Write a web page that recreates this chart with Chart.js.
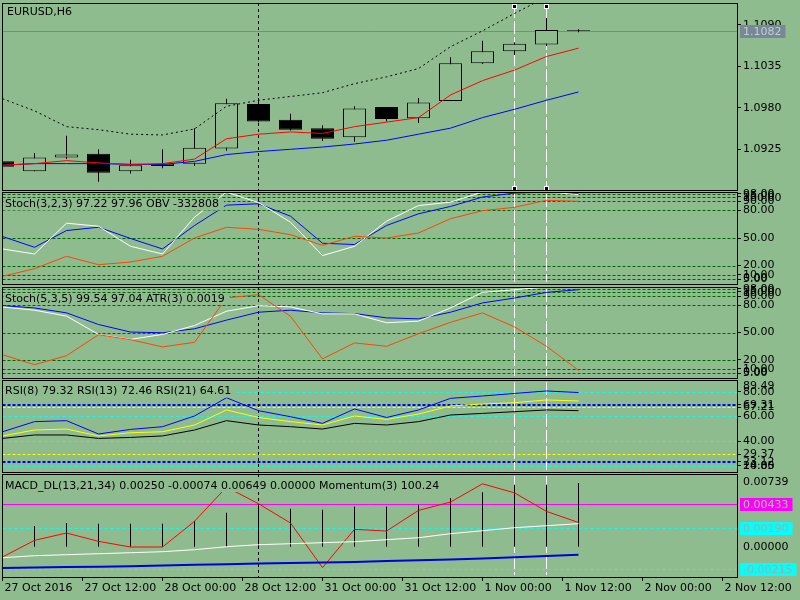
<!DOCTYPE html>
<html lang="en">
<head>
<meta charset="UTF-8" />
<title>EURUSD,H6</title>
<script src="https://cdn.jsdelivr.net/npm/chart.js"></script>
<style>
  body { margin: 0; background: #8fbc8f; }
  .wrap { position: relative; width: 800px; height: 600px; overflow: hidden; }
  canvas { position: absolute; left: 0; }
</style>
</head>
<body>
<div class="wrap">
  <canvas id="mainChart" width="800" height="196" style="top:0px"></canvas>
  <canvas id="stochA" width="800" height="106" style="top:184px"></canvas>
  <canvas id="stochB" width="800" height="106" style="top:278px"></canvas>
  <canvas id="rsiChart" width="800" height="106" style="top:372px"></canvas>
  <canvas id="macdChart" width="800" height="134" style="top:466px"></canvas>
</div>
<script>
// one entry per H6 bar, bar index = position in the array
const candleOpen  = [1.0909, 1.0896, 1.0914, 1.0919, 1.0896, 1.0903, 1.0906, 1.0926, 1.0985, 1.0964, 1.0953, 1.0941, 1.0981, 1.0966, 1.0989, 1.1039, 1.1055, 1.1064, 1.1083];
const candleHigh  = [1.0910, 1.0920, 1.0943, 1.0925, 1.0911, 1.0925, 1.0953, 1.0992, 1.0993, 1.0972, 1.0957, 1.0982, 1.0981, 1.0993, 1.1047, 1.1069, 1.1067, 1.1099, 1.1084];
const candleLow   = [1.0898, 1.0896, 1.0912, 1.0882, 1.0893, 1.0900, 1.0903, 1.0923, 1.0961, 1.0950, 1.0936, 1.0935, 1.0962, 1.0960, 1.0989, 1.1038, 1.1050, 1.1062, 1.1080];
const candleClose = [1.0902, 1.0914, 1.0918, 1.0894, 1.0904, 1.0906, 1.0927, 1.0986, 1.0962, 1.0951, 1.0939, 1.0979, 1.0965, 1.0987, 1.1039, 1.1055, 1.1065, 1.1083, 1.1082];
const maFast  = [1.0904, 1.0906, 1.0910, 1.0907, 1.0905, 1.0906, 1.0912, 1.0939, 1.0945, 1.0948, 1.0946, 1.0955, 1.0961, 1.0967, 1.0997, 1.1016, 1.1030, 1.1048, 1.1059];
const maSlow  = [1.0904, 1.0906, 1.0906, 1.0906, 1.0905, 1.0905, 1.0909, 1.0918, 1.0922, 1.0925, 1.0928, 1.0932, 1.0937, 1.0945, 1.0953, 1.0967, 1.0978, 1.0990, 1.1001];
const maUpper = [1.0992, 1.0976, 1.0955, 1.0951, 1.0945, 1.0944, 1.0952, 1.0982, 1.0990, 1.0995, 1.1000, 1.1012, 1.1021, 1.1032, 1.1061, 1.1082, 1.1105, 1.1127, 1.1147];
const priceTicks = [1.0925, 1.0980, 1.1035, 1.1090];
const lastPrice = 1.1082;

const stochAMain   = [38.1, 32.6, 66.1, 62.8, 41.0, 32.6, 72.6, 99.9, 88.5, 67.2, 30.9, 41.0, 68.3, 85.2, 89.0, 100, 100, 100, 97.22];
const stochASignal = [51.6, 39.9, 58.1, 61.7, 49.5, 38.1, 63.6, 85.7, 87.2, 73.7, 44.3, 42.9, 63.6, 76.3, 84.3, 94.5, 98.8, 99.9, 97.96];
const obv = [-857800, -804600, -717800, -776600, -757700, -717800, -589700, -514800, -528800, -566600, -640800, -577800, -589700, -554700, -454600, -398600, -374800, -325800, -332808];

const stochBMain   = [78.1, 74.5, 68.0, 47.9, 42.4, 47.9, 57.7, 73.4, 79.5, 78.1, 70.5, 70.5, 60.7, 62.5, 77.0, 94.1, 97.0, 100, 99.54];
const stochBSignal = [79.5, 77.0, 71.6, 58.8, 50.5, 49.7, 54.1, 63.6, 72.3, 74.5, 71.6, 70.8, 66.1, 65.0, 72.3, 82.5, 87.9, 94.1, 97.04];
const atr = [0.00268, 0.00218, 0.00263, 0.00368, 0.00343, 0.00307, 0.00330, 0.00552, 0.00568, 0.00460, 0.00247, 0.00327, 0.00310, 0.00373, 0.00430, 0.00477, 0.00407, 0.00310, 0.0019];
const stochLevels = [98, 95, 90, 80, 50, 20, 10, 5];

const rsi8  = [47.5, 55.7, 56.5, 45.7, 49.4, 51.6, 60.3, 75.1, 64.6, 59.7, 54.3, 66.0, 59.1, 65.2, 74.6, 76.5, 78.6, 80.6, 79.32];
const rsi13 = [44.1, 48.9, 49.7, 44.1, 46.7, 47.5, 53.0, 65.2, 59.1, 55.7, 53.0, 60.3, 57.5, 61.9, 68.4, 70.0, 71.1, 73.3, 72.46];
const rsi21 = [42.1, 44.9, 44.9, 42.1, 42.9, 44.1, 48.9, 56.5, 53.0, 51.6, 49.7, 54.3, 53.0, 55.7, 61.1, 62.4, 63.8, 65.2, 64.61];
const rsiCyanLevels = [80, 60, 40, 20];
const rsiYellowLevels = [67.21, 29.37];
const rsiBlueLevels = [69.31, 23.12];
const rsiMin = 14.85, rsiMax = 89.49;

const macdMain   = [-0.00098, 0.00070, 0.00144, 0.00060, 0.00003, 0.00003, 0.00262, 0.00607, 0.00439, 0.00245, -0.00205, 0.00181, 0.00164, 0.00372, 0.00456, 0.00640, 0.00549, 0.00362, 0.00250];
const macdSignal = [-0.00208, -0.00203, -0.00198, -0.00195, -0.00191, -0.00183, -0.00176, -0.00170, -0.00163, -0.00158, -0.00153, -0.00148, -0.00138, -0.00131, -0.00123, -0.00113, -0.00101, -0.00088, -0.00074];
const macdHist   = [0.00190, 0.00214, 0.00245, 0.00238, 0.00238, 0.00238, 0.00265, 0.00348, 0.00439, 0.00388, 0.00378, 0.00412, 0.00412, 0.00429, 0.00496, 0.00556, 0.00630, 0.00630, 0.00649];
const momentum   = [99.90, 99.92, 99.93, 99.94, 99.95, 99.96, 99.98, 100.01, 100.03, 100.04, 100.05, 100.06, 100.08, 100.10, 100.14, 100.17, 100.20, 100.22, 100.24];
const macdMagentaLevel = 0.00433;
const macdCyanLevels = [0.00190, -0.00215];
const macdMin = -0.002994, macdMax = 0.00739;

const xTicks = [0, 2.5, 5, 7.5, 10, 12.5, 15, 17.5, 20, 22.5];
const xTickLabels = ["27 Oct 2016", "27 Oct 12:00", "28 Oct 00:00", "28 Oct 12:00", "31 Oct 00:00",
  "31 Oct 12:00", "1 Nov 00:00", "1 Nov 12:00", "2 Nov 00:00", "2 Nov 12:00"];
const blackMarkerBar = 8;
const whiteMarkerBars = [16, 17];

const BG = "#8fbc8f";
const AXIS_W = 63;
const X_MAX = (737 - 2.5) / 32; // 32 px per bar
const FONT = '11px "DejaVu Sans"';

Chart.defaults.font.family = '"DejaVu Sans", sans-serif';
Chart.defaults.font.size = 11;
Chart.defaults.color = "#000";

const toPoints = (vals) => vals.map((v, i) => ({ x: i, y: v }));

function line(vals, color, extra) {
  return Object.assign({
    type: "line", data: toPoints(vals), borderColor: color, borderWidth: 1,
    pointRadius: 0, tension: 0, fill: false, order: 1,
  }, extra || {});
}

// no label overflow padding: the panel edges are fixed like in the terminal
function noPad(s) {
  s.paddingTop = 0; s.paddingBottom = 0; s.paddingLeft = 0; s.paddingRight = 0;
}

function rightAxis(min, max, ticks, digits, marks) {
  return {
    position: "right", min: min, max: max,
    afterBuildTicks: (s) => { s.ticks = ticks.map((v) => ({ value: v })); },
    afterFit: (s) => { s.width = AXIS_W; noPad(s); },
    ticks: { autoSkip: false, padding: marks ? 2 : 6, callback: (v) => Number(v).toFixed(digits) },
    grid: { drawOnChartArea: false, drawTicks: marks, tickLength: 4, tickColor: "#000" },
    border: { display: false },
  };
}

const hiddenX = { type: "linear", min: 0, max: X_MAX, display: false, offset: false, grid: { offset: false } };
const bottomX = {
  type: "linear", min: 0, max: X_MAX, position: "bottom", offset: false,
  afterBuildTicks: (s) => { s.ticks = xTicks.map((v) => ({ value: v })); },
  afterFit: (s) => { s.height = 23; noPad(s); },
  ticks: { autoSkip: false, maxRotation: 0, minRotation: 0, align: "start", labelOffset: 2, padding: 1,
    callback: (v, i) => xTickLabels[i] },
  grid: { offset: false, drawOnChartArea: false, drawTicks: true, tickLength: 4, tickColor: "#000" },
  border: { display: false },
};

// levels, markers, titles, frame and value boxes in MT4 style
const panelDeco = {
  id: "panelDeco",
  beforeDatasetsDraw(chart, args, o) {
    const { ctx, chartArea: a, scales } = chart;
    ctx.save();
    (o.levels || []).forEach((l) => {
      const w = l.width || 1;
      let py = Math.round(scales[l.axis || "y"].getPixelForValue(l.value));
      if (w % 2) py += 0.5;
      ctx.strokeStyle = l.color;
      ctx.lineWidth = w;
      ctx.setLineDash(l.dash || []);
      ctx.beginPath(); ctx.moveTo(a.left, py); ctx.lineTo(a.right, py); ctx.stroke();
    });
    ctx.lineWidth = 1;
    ctx.strokeStyle = "#000";
    ctx.setLineDash([3, 3]);
    const bx = Math.floor(scales.x.getPixelForValue(blackMarkerBar)) + 0.5;
    ctx.beginPath(); ctx.moveTo(bx, a.top); ctx.lineTo(bx, a.bottom); ctx.stroke();
    ctx.strokeStyle = "#fff";
    ctx.setLineDash([13, 3]);
    whiteMarkerBars.forEach((b) => {
      const px = Math.floor(scales.x.getPixelForValue(b)) + 0.5;
      ctx.beginPath(); ctx.moveTo(px, a.top + 2); ctx.lineTo(px, a.bottom - 2); ctx.stroke();
    });
    ctx.restore();
  },
  afterDatasetsDraw(chart, args, o) {
    const { ctx, chartArea: a, scales } = chart;
    ctx.save();
    if (o.title) {
      ctx.font = FONT;
      ctx.textBaseline = "middle";
      const w = ctx.measureText(o.title).width;
      const ty = a.top + o.titleDy;
      if (o.titleBox) {
        ctx.fillStyle = BG;
        ctx.fillRect(a.left + 1, ty - 6, o.titleX - a.left + w + 4, 12);
      }
      ctx.fillStyle = "#000";
      ctx.fillText(o.title, o.titleX, ty);
    }
    if (o.handles) {
      whiteMarkerBars.forEach((b) => {
        const px = Math.floor(scales.x.getPixelForValue(b)) + 0.5;
        [a.top + 2.5, a.bottom - 2.5].forEach((hy) => {
          ctx.fillStyle = "#fff";
          ctx.fillRect(px - 2.5, Math.round(hy) - 2, 5, 5);
          ctx.fillStyle = "#000";
          ctx.fillRect(px - 1.5, Math.round(hy) - 1, 3, 3);
        });
      });
    }
    ctx.restore();
  },
  afterDraw(chart, args, o) {
    const { ctx, chartArea: a, scales } = chart;
    ctx.save();
    ctx.strokeStyle = "#000";
    ctx.lineWidth = 1;
    const l = Math.floor(a.left) + 0.5, r = Math.floor(a.right) + 0.5;
    const t = Math.floor(a.top) + 0.5, b = Math.floor(a.bottom) + 0.5;
    ctx.strokeRect(l, t, r - l, b - t);
    ctx.font = FONT;
    ctx.fillStyle = "#000";
    ctx.textAlign = "left";
    if (o.topLabel) {
      ctx.textBaseline = "top";
      ctx.fillText(o.topLabel, 743, a.top + (o.topDy || 1));
    }
    if (o.bottomLabel) {
      ctx.textBaseline = "bottom";
      ctx.fillText(o.bottomLabel, 743, a.bottom);
    }
    ctx.textBaseline = "middle";
    (o.boxes || []).forEach((bx) => {
      const py = Math.round(scales.y.getPixelForValue(bx.value));
      const w = ctx.measureText(bx.text).width;
      ctx.fillStyle = bx.bg;
      ctx.fillRect(740, py - 6, w + 7, 13);
      ctx.fillStyle = bx.fg;
      ctx.fillText(bx.text, 743, py + 1);
    });
    ctx.restore();
  },
};

function panel(id, padTop, padBottom, datasets, scales, deco) {
  return new Chart(document.getElementById(id), {
    type: "line",
    data: { datasets: datasets },
    options: {
      responsive: false,
      animation: false,
      devicePixelRatio: 1,
      events: [],
      layout: { padding: { top: padTop, bottom: padBottom, left: 2.5, right: 0 } },
      plugins: { legend: { display: false }, tooltip: { enabled: false }, panelDeco: deco },
      scales: scales,
    },
    plugins: [panelDeco],
  });
}

// price window
panel("mainChart", 3, 6, [
  line(maUpper, "#000", { borderDash: [2, 3] }),
  line(maFast, "#ff0000"),
  line(maSlow, "#0000ff"),
  {
    type: "bar", order: 3, grouped: false, barThickness: 23, inflateAmount: 0,
    data: candleOpen.map((op, i) => ({ x: i, y: [op, candleClose[i]] })),
    backgroundColor: candleOpen.map((op, i) => (candleClose[i] >= op ? BG : "#000")),
    borderColor: "#000", borderWidth: 1, borderSkipped: false,
  },
  {
    type: "bar", order: 4, grouped: false, barThickness: 1, inflateAmount: 0,
    data: candleHigh.map((h, i) => ({ x: i, y: [candleLow[i], h] })),
    backgroundColor: "#000", borderWidth: 0,
  },
], {
  x: hiddenX,
  y: rightAxis(1.087105, 1.11189, priceTicks, 4, true),
}, {
  title: "EURUSD,H6", titleX: 7, titleDy: 9, titleBox: false, handles: true,
  levels: [{ value: lastPrice, color: "#778899" }],
  boxes: [{ value: lastPrice, text: lastPrice.toFixed(4), bg: "#778899", fg: "#c4ccd4" }],
});

const stochLevelLines = stochLevels.map((v) => ({ value: v, color: "#006400", dash: [3, 2] }));

panel("stochA", 8, 6, [
  line(obv, "#ff4500", { yAxisID: "yObv" }),
  line(stochAMain, "#ffffff"),
  line(stochASignal, "#0000ff"),
], {
  x: hiddenX,
  y: rightAxis(0, 100, stochLevels, 2, true),
  yObv: { display: false, min: -911700, max: -267700 },
}, {
  title: "Stoch(3,2,3) 97.22 97.96 OBV -332808", titleX: 5, titleDy: 12.5, titleBox: true,
  levels: stochLevelLines, topLabel: "100.00", bottomLabel: "0.00",
});

panel("stochB", 9, 6, [
  line(atr, "#ff4500", { yAxisID: "yAtr" }),
  line(stochBMain, "#ffffff"),
  line(stochBSignal, "#0000ff"),
], {
  x: hiddenX,
  y: rightAxis(0, 100, stochLevels, 2, true),
  yAtr: { display: false, min: 0.001515, max: 0.006065 },
}, {
  title: "Stoch(5,3,5) 99.54 97.04 ATR(3) 0.0019", titleX: 5, titleDy: 12, titleBox: true,
  levels: stochLevelLines, topLabel: "100.00", bottomLabel: "0.00",
});

panel("rsiChart", 8, 6, [
  line(rsi21, "#000000"),
  line(rsi13, "#ffff00"),
  line(rsi8, "#0000ff"),
], {
  x: hiddenX,
  y: rightAxis(rsiMin, rsiMax, rsiCyanLevels.concat(rsiYellowLevels, rsiBlueLevels), 2, true),
}, {
  title: "RSI(8) 79.32 RSI(13) 72.46 RSI(21) 64.61", titleX: 5, titleDy: 11.5, titleBox: true,
  levels: rsiCyanLevels.map((v) => ({ value: v, color: "#00ffff", dash: [3, 3] }))
    .concat(rsiYellowLevels.map((v) => ({ value: v, color: "#ffff00", dash: [3, 2] })))
    .concat(rsiBlueLevels.map((v) => ({ value: v, color: "#0000ff", dash: [3, 2], width: 2 }))),
  topLabel: rsiMax.toFixed(2), bottomLabel: rsiMin.toFixed(2),
});

panel("macdChart", 8, 0, [
  line(momentum, "#ffffff", { yAxisID: "yMom" }),
  line(macdSignal, "#0000d8", { borderWidth: 2 }),
  line(macdMain, "#ff0000"),
  {
    type: "bar", order: 4, grouped: false, barThickness: 1, inflateAmount: 0,
    data: toPoints(macdHist), backgroundColor: "#000", borderWidth: 0,
  },
], {
  x: bottomX,
  y: rightAxis(macdMin, macdMax, [0], 5, false),
  yMom: { display: false, min: 99.707, max: 100.737 },
}, {
  title: "MACD_DL(13,21,34) 0.00250 -0.00074 0.00649 0.00000 Momentum(3) 100.24", titleX: 5, titleDy: 12, titleBox: true,
  levels: [{ value: macdMagentaLevel, color: "#ff00ff" }]
    .concat(macdCyanLevels.map((v) => ({ value: v, color: "#00ffff", dash: [3, 3] }))),
  topLabel: macdMax.toFixed(5), topDy: 3,
  boxes: [{ value: macdMagentaLevel, text: macdMagentaLevel.toFixed(5), bg: "#ff00ff", fg: "#a4c8a0" }]
    .concat(macdCyanLevels.map((v) => ({ value: v, text: v.toFixed(5), bg: "#00ffff", fg: "#90b4a4" }))),
});
</script>
</body>
</html>
